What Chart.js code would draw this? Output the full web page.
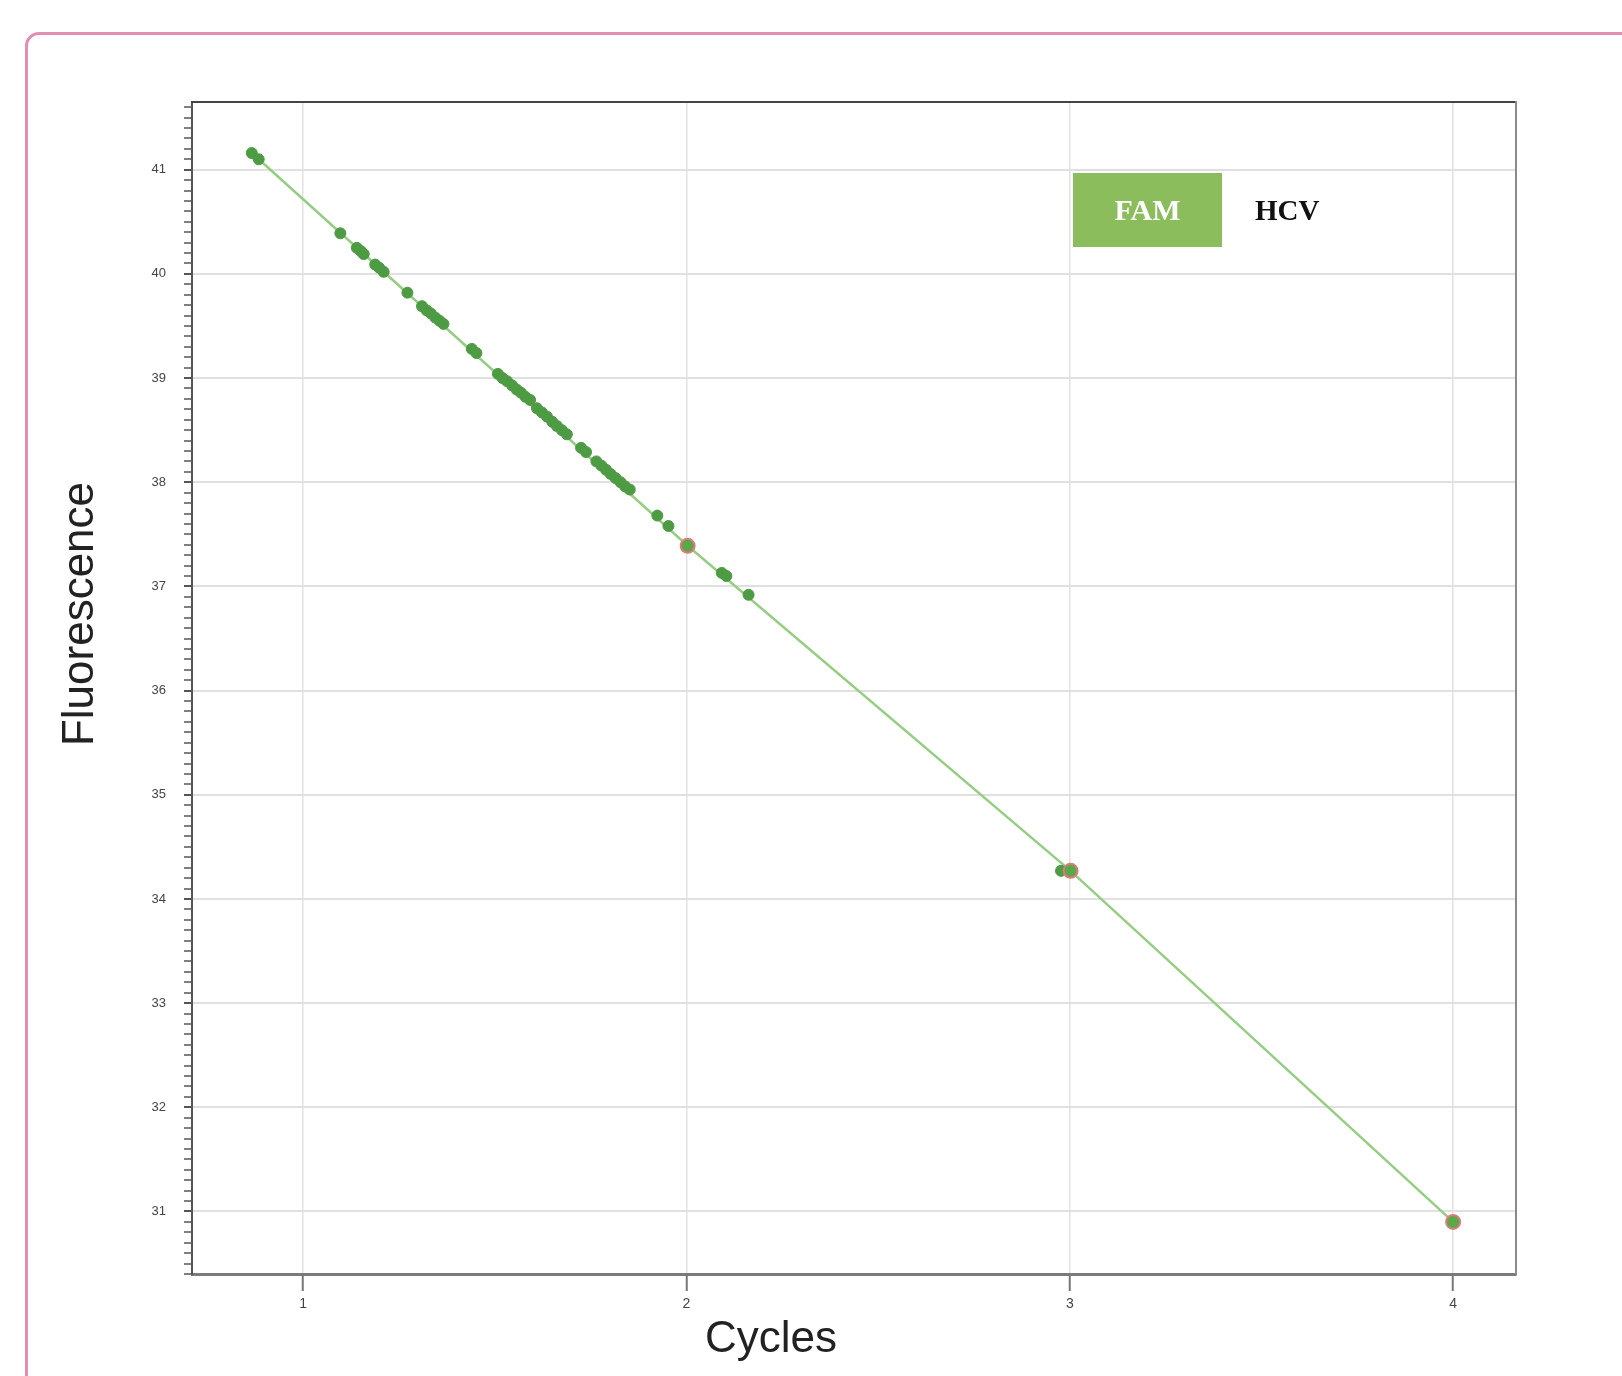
<!DOCTYPE html>
<html lang="en">
<head>
  <meta charset="UTF-8">
  <title>HCV Standard Curve</title>
  <script src="https://cdn.jsdelivr.net/npm/chart.js@4.4.1/dist/chart.umd.min.js"></script>
  <style>
    html, body { margin: 0; padding: 0; background: #fff; overflow: hidden; }
    #frame {
      position: absolute; left: 25px; top: 32px; width: 1700px; height: 1500px;
      border: 3px solid #e38db2; border-radius: 14px;
    }
    #chart { position: absolute; left: 0; top: 0; }
  </style>
</head>
<body>
<div id="frame"></div>
<canvas id="chart" width="1622" height="1376"></canvas>

<script>
  // sample wells (green dots)
  const sampleCycles = [0.866, 0.884, 1.097, 1.140, 1.150, 1.158, 1.188, 1.198, 1.210, 1.272,
    1.310, 1.322, 1.333, 1.345, 1.356, 1.366, 1.440, 1.452,
    1.508, 1.520, 1.532, 1.545, 1.557, 1.568, 1.580, 1.592,
    1.610, 1.623, 1.636, 1.650, 1.662, 1.675, 1.688, 1.725, 1.738,
    1.765, 1.778, 1.790, 1.802, 1.815, 1.828, 1.840, 1.852,
    1.924, 1.953, 2.092, 2.104, 2.162, 2.977];
  const sampleFluor = [41.16, 41.10, 40.39, 40.25, 40.22, 40.19, 40.09, 40.06, 40.02, 39.82,
    39.69, 39.65, 39.62, 39.58, 39.55, 39.52, 39.28, 39.24,
    39.04, 39.00, 38.97, 38.93, 38.89, 38.86, 38.82, 38.79,
    38.71, 38.67, 38.63, 38.58, 38.54, 38.50, 38.46, 38.33, 38.29,
    38.20, 38.16, 38.12, 38.08, 38.04, 38.00, 37.96, 37.93,
    37.68, 37.58, 37.13, 37.10, 36.92, 34.27];

  // standards (red rings)
  const standardCycles = [2.003, 3.002, 4.0];
  const standardFluor = [37.39, 34.27, 30.90];

  // standard curve
  const fitCycles = [0.866, 2.003, 3.002, 4.0];
  const fitFluor = [41.16, 37.39, 34.27, 30.90];

  const xTicks = [1, 2, 3, 4];

  const toPoints = (xs, ys) => xs.map((x, i) => ({ x, y: ys[i] }));
  const isWhole = v => Math.abs(v - Math.round(v)) < 1e-6;

  // legend box + axis titles
  const labelsPlugin = {
    id: 'labels',
    afterDraw(chart) {
      const { ctx, chartArea: a } = chart;
      ctx.save();
      const bx = a.left + 881, by = a.top + 71, bw = 149, bh = 74;
      ctx.fillStyle = '#8bbd5c';
      ctx.fillRect(bx, by, bw, bh);
      ctx.fillStyle = '#ffffff';
      ctx.font = 'bold 30px "Liberation Serif"';
      ctx.textAlign = 'center';
      ctx.textBaseline = 'middle';
      ctx.fillText('FAM', bx + bw / 2, by + bh / 2 + 2);
      ctx.fillStyle = '#111';
      ctx.font = 'bold 29px "Liberation Serif"';
      ctx.textAlign = 'left';
      ctx.fillText('HCV', a.left + 1063, a.top + 111);

      ctx.fillStyle = '#222';
      ctx.font = '44px "Liberation Sans"';
      ctx.textAlign = 'center';
      ctx.textBaseline = 'alphabetic';
      ctx.fillText('Cycles', 771, 1352);
      ctx.translate(93, 614);
      ctx.rotate(-Math.PI / 2);
      ctx.fillText('Fluorescence', 0, 0);
      ctx.restore();
    }
  };

  new Chart(document.getElementById('chart').getContext('2d'), {
    type: 'scatter',
    data: {
      datasets: [
        {
          label: 'HCV',
          data: toPoints(sampleCycles, sampleFluor),
          pointRadius: 5.5,
          backgroundColor: '#4d9b43',
          borderColor: '#4d9b43',
          borderWidth: 1,
          order: 2
        },
        {
          label: 'Standards',
          data: toPoints(standardCycles, standardFluor),
          pointRadius: 7,
          backgroundColor: '#5aa84a',
          borderColor: '#e07a7a',
          borderWidth: 2,
          order: 1
        },
        {
          label: 'Fit',
          data: toPoints(fitCycles, fitFluor),
          showLine: true,
          borderColor: '#95ce82',
          borderWidth: 2.5,
          pointRadius: 0,
          order: 3
        }
      ]
    },
    options: {
      responsive: false,
      animation: false,
      layout: { padding: { left: 0, top: 102, right: 106, bottom: 0 } },
      plugins: { legend: { display: false }, tooltip: { enabled: false } },
      scales: {
        x: {
          type: 'linear',
          position: 'bottom',
          min: 0.71,
          max: 4.164,
          afterFit: s => { s.height = 102; },
          afterBuildTicks: s => { s.ticks = xTicks.map(v => ({ value: v })); },
          border: { color: '#7a7a7a', width: 3 },
          grid: { color: '#e2e2e2', lineWidth: 1.5, tickColor: '#777', tickLength: 17, tickWidth: 2 },
          ticks: { color: '#444', padding: 5, font: { family: 'Liberation Sans', size: 14 } }
        },
        y: {
          type: 'linear',
          position: 'left',
          min: 30.4,
          max: 41.65,
          afterFit: s => { s.width = 192; },
          border: { color: '#555', width: 2 },
          grid: {
            color: c => isWhole(c.tick.value) ? '#e0e0e0' : 'rgba(0,0,0,0)',
            lineWidth: 2,
            tickColor: '#555',
            tickLength: 8,
            tickWidth: c => isWhole(c.tick.value) ? 2 : 1.5
          },
          ticks: {
            stepSize: 0.1,
            autoSkip: false,
            maxTicksLimit: 200,
            includeBounds: false,
            padding: 18,
            color: '#444',
            font: { family: 'Liberation Sans', size: 13 },
            callback: v => isWhole(v) ? String(Math.round(v)) : ''
          }
        },
        xTop: {
          type: 'linear',
          position: 'top',
          min: 0.71,
          max: 4.164,
          afterFit: s => { s.height = 0; },
          border: { color: '#444', width: 2 },
          grid: { display: false, drawTicks: false },
          ticks: { display: false }
        },
        yRight: {
          type: 'linear',
          position: 'right',
          min: 30.4,
          max: 41.65,
          afterFit: s => { s.width = 0; },
          border: { color: '#8a8a8a', width: 2 },
          grid: { display: false, drawTicks: false },
          ticks: { display: false }
        }
      }
    },
    plugins: [labelsPlugin]
  });
</script>
</body>
</html>
